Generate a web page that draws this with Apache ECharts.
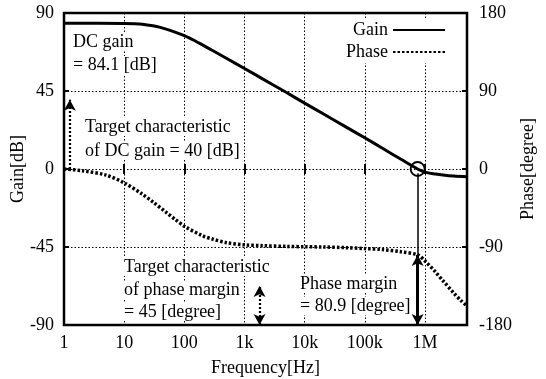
<!DOCTYPE html>
<html>
<head>
<meta charset="utf-8">
<script src="https://cdn.jsdelivr.net/npm/echarts@6/dist/echarts.min.js"></script>
<style>
  html, body { margin: 0; padding: 0; background: #fff; }
  #chart { width: 546px; height: 379px; }
</style>
</head>
<body>
<div id="chart"></div>
<script>
// Open-loop frequency response of the amplifier
const gainFreqHz = [1, 10, 15, 20, 30, 40, 50, 70, 100, 150, 200, 300, 500, 1e3, 2e3, 5e3, 1e4, 2e4, 5e4, 1e5, 2e5, 4e5, 7.55e5, 1e6, 1.5e6, 2e6, 3e6, 5e6];
const gainDb     = [84.1, 84.0, 83.8, 83.5, 82.6, 81.7, 80.7, 79.0, 77.0, 74.0, 71.6, 68.2, 63.9, 58.0, 52.0, 44.1, 38.0, 32.0, 24.0, 18.0, 11.8, 5.6, 0, -1.8, -2.9, -3.5, -4.1, -4.5];

const phaseFreqHz = [1, 2, 5, 10, 20, 30, 50, 70, 100, 200, 300, 500, 1e3, 2e3, 5e3, 1e4, 2e4, 5e4, 1e5, 2e5, 4e5, 7.55e5, 1e6, 1.5e6, 2e6, 3e6, 4e6, 5e6];
const phaseDeg    = [0, -2, -7, -16, -29, -38, -50, -58, -66, -77, -81, -85, -87.5, -88.5, -89.3, -89.7, -90, -90.8, -91.8, -93, -95.5, -99.1, -106, -119, -129, -143, -152, -158];

// Axis tick labels (one per decade)
const freqTickLabels = ['1', '10', '100', '1k', '10k', '100k', '1M'];

// Design figures
const dcGainDb = 84.1;
const targetDcGainDb = 40;
const unityGainFreqHz = 7.55e5;
const phaseMarginDeg = 80.9;
const targetPhaseMarginDeg = 45;
const dcGainMarkerFreqHz = 1.25;
const targetPmMarkerFreqHz = 1780;

const FONT = 'Liberation Serif, Times New Roman, serif';
const FS = 18;

const pair = (xs, ys) => xs.map((x, i) => [x, ys[i]]);

const chart = echarts.init(document.getElementById('chart'), null, { renderer: 'canvas' });

const textStyle = { fontFamily: FONT, fontSize: FS, color: '#000' };
const label = (x, y, text) => ({
  type: 'text', left: x, top: y, z: 50,
  style: { text: text, fill: '#000', font: FS + 'px ' + FONT, backgroundColor: '#fff' }
});

const gridLine = { show: true, lineStyle: { color: '#000', width: 1, type: [1.5, 2] } };
const inTick = { show: true, inside: true, length: 5, lineStyle: { color: '#000', width: 2 } };
const legendBase = {
  right: 98, align: 'right', itemWidth: 52, itemHeight: 12, itemGap: 0,
  padding: [2, 2, 2, 4], backgroundColor: '#fff', textStyle: textStyle,
  itemStyle: { color: 'rgba(0,0,0,0)', borderColor: 'rgba(0,0,0,0)', borderWidth: 0 }
};

chart.setOption({
  animation: false,
  backgroundColor: '#fff',
  textStyle: textStyle,
  grid: {
    left: 64, right: 79, top: 13, bottom: 54, outerBoundsMode: 'none',
    show: true, borderColor: '#000', borderWidth: 2.5, backgroundColor: 'transparent'
  },
  legend: [
    Object.assign({ data: ['Gain'], top: 19 }, legendBase),
    Object.assign({ data: ['Phase'], top: 41 }, legendBase)
  ],
  xAxis: [
    {
      type: 'log', logBase: 10, min: 1, max: 5e6,
      name: 'Frequency[Hz]', nameLocation: 'middle', nameGap: 34, nameMoveOverlap: false,
      nameTextStyle: textStyle,
      axisLine: { show: false },
      axisTick: inTick,
      axisLabel: {
        fontFamily: FONT, fontSize: FS, color: '#000', margin: 9, showMaxLabel: false,
        formatter: v => {
          const d = Math.log10(v);
          const k = Math.round(d);
          return Math.abs(d - k) < 1e-6 && k >= 0 && k < freqTickLabels.length ? freqTickLabels[k] : '';
        }
      },
      splitLine: gridLine
    },
    {
      type: 'log', logBase: 10, min: 1, max: 5e6, position: 'top',
      axisLine: { show: false },
      axisTick: inTick,
      axisLabel: { show: false },
      splitLine: { show: false }
    }
  ],
  yAxis: [
    {
      type: 'value', min: -90, max: 90, interval: 45, position: 'left',
      name: 'Gain[dB]', nameLocation: 'middle', nameRotate: 90, nameGap: 37, nameMoveOverlap: false,
      nameTextStyle: textStyle,
      axisLine: { show: false },
      axisTick: inTick,
      axisLabel: { fontFamily: FONT, fontSize: FS, color: '#000', margin: 10 },
      splitLine: gridLine
    },
    {
      type: 'value', min: -180, max: 180, interval: 90, position: 'right',
      name: 'Phase[degree]', nameLocation: 'middle', nameRotate: 90, nameGap: 52, nameMoveOverlap: false,
      nameTextStyle: textStyle,
      axisLine: { show: false },
      axisTick: inTick,
      axisLabel: { fontFamily: FONT, fontSize: FS, color: '#000', margin: 12 },
      splitLine: { show: false }
    }
  ],
  series: [
    {
      name: 'Gain', type: 'line', xAxisIndex: 0, yAxisIndex: 0,
      data: pair(gainFreqHz, gainDb), smooth: 0.3, showSymbol: false, symbol: 'none',
      lineStyle: { color: '#000', width: 3 }, itemStyle: { color: '#000' }, z: 5,
      markPoint: {
        silent: true, animation: false,
        symbol: 'circle', symbolSize: 14,
        itemStyle: { color: 'rgba(0,0,0,0)', borderColor: '#000', borderWidth: 1.8 },
        label: { show: false },
        data: [{ coord: [unityGainFreqHz, 0] }]
      },
      markLine: {
        silent: true, animation: false, label: { show: false },
        symbolSize: [9, 11],
        data: [
          // target DC gain
          [
            { coord: [dcGainMarkerFreqHz, 0], symbol: 'none', lineStyle: { type: [2, 2], width: 2.2, color: '#000' } },
            { coord: [dcGainMarkerFreqHz, targetDcGainDb], symbol: 'arrow' }
          ],
          // drop from the unity-gain point
          [
            { coord: [unityGainFreqHz, -2.5], symbol: 'none', lineStyle: { type: 'solid', width: 1.5, color: '#000' } },
            { coord: [unityGainFreqHz, -90], symbol: 'none' }
          ]
        ]
      }
    },
    {
      name: 'Phase', type: 'line', xAxisIndex: 0, yAxisIndex: 1,
      data: pair(phaseFreqHz, phaseDeg), smooth: 0.3, showSymbol: false, symbol: 'none',
      lineStyle: { color: '#000', width: 3.5, type: [2.5, 2], cap: 'butt' }, itemStyle: { color: '#000' }, z: 4,
      markLine: {
        silent: true, animation: false, label: { show: false },
        symbolSize: [9, 11],
        data: [
          // target phase margin
          [
            { coord: [targetPmMarkerFreqHz, -180], symbol: 'arrow', lineStyle: { type: [2, 2], width: 2.2, color: '#000' } },
            { coord: [targetPmMarkerFreqHz, -180 + targetPhaseMarginDeg], symbol: 'arrow' }
          ],
          // achieved phase margin
          [
            { coord: [unityGainFreqHz, -180], symbol: 'arrow', lineStyle: { type: 'solid', width: 3, color: '#000' } },
            { coord: [unityGainFreqHz, -180 + phaseMarginDeg], symbol: 'arrow' }
          ]
        ]
      }
    }
  ],
  graphic: [
    label(73, 33, 'DC gain'),
    label(73, 56, '= ' + dcGainDb + ' [dB]'),
    label(85, 118, 'Target characteristic'),
    label(85, 142, 'of DC gain = ' + targetDcGainDb + ' [dB]'),
    label(124, 258, 'Target characteristic'),
    label(124, 281, 'of phase margin'),
    label(124, 303, '= ' + targetPhaseMarginDeg + ' [degree]'),
    label(300, 275, 'Phase margin'),
    label(300, 297, '= ' + phaseMarginDeg + ' [degree]')
  ]
});
</script>
</body>
</html>
